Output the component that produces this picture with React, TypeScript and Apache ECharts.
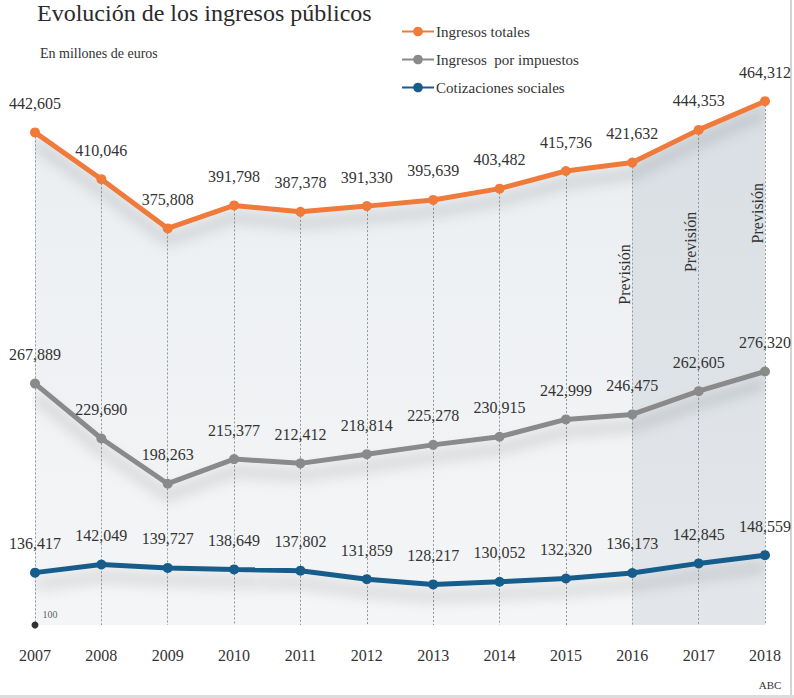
import React, { useEffect, useRef } from "react";
import * as echarts from "echarts";

const years = ["2007", "2008", "2009", "2010", "2011", "2012", "2013", "2014", "2015", "2016", "2017", "2018"];
const totales = [442605, 410046, 375808, 391798, 387378, 391330, 395639, 403482, 415736, 421632, 444353, 464312];
const impuestos = [267889, 229690, 198263, 215377, 212412, 218814, 225278, 230915, 242999, 246475, 262605, 276320];
const cotizaciones = [136417, 142049, 139727, 138649, 137802, 131859, 128217, 130052, 132320, 136173, 142845, 148559];
const forecastYears = ["2016", "2017", "2018"];
const baseValue = 100000;
const baseLabel = "100";

const SERIF = "'Liberation Serif', 'DejaVu Serif', serif";
const fmt = (v: number) => v.toLocaleString("en-US");

export default function App() {
  const ref = useRef<HTMLDivElement>(null);
  useEffect(() => {
    if (!ref.current) return;
    const chart = echarts.init(ref.current, undefined, { renderer: "svg" });
    const fStart = years.indexOf(forecastYears[0]);
    const forecastData = totales.map((v, i) => (i >= fStart ? v : null));

    const lineSeries = (name: string, data: number[], color: string) => ({
      name,
      type: "line",
      data,
      z: 5,
      symbol: "circle",
      symbolSize: 10,
      itemStyle: { color },
      lineStyle: {
        color,
        width: 5,
        shadowColor: "rgba(0,0,0,0.25)",
        shadowBlur: 14,
        shadowOffsetY: 12,
      },
      label: {
        show: true,
        position: "top",
        distance: 16,
        formatter: (p: any) => fmt(p.value),
        fontFamily: SERIF,
        fontSize: 16,
        color: "#333",
      },
    });

    chart.setOption({
      animation: false,
      backgroundColor: "#fff",
      title: [
        {
          text: "Evolución de los ingresos públicos",
          left: 32,
          top: -4,
          textStyle: { fontFamily: SERIF, fontSize: 24, fontWeight: "normal", color: "#2b2b2b" },
        },
        {
          text: "En millones de euros",
          left: 35,
          top: 41,
          textStyle: { fontFamily: SERIF, fontSize: 14, fontWeight: "normal", color: "#333" },
        },
      ],
      legend: {
        orient: "vertical",
        left: 396,
        top: 19,
        itemWidth: 32,
        itemHeight: 12,
        itemGap: 13,
        data: ["Ingresos totales", "Ingresos  por impuestos", "Cotizaciones sociales"],
        textStyle: { fontFamily: SERIF, fontSize: 15, color: "#333", padding: [0, 0, 0, -3] },
      },
      grid: { left: 35, right: 29, top: 93, bottom: 73 },
      xAxis: {
        type: "category",
        data: years,
        boundaryGap: false,
        axisLine: { show: false },
        axisTick: { show: false },
        splitLine: { show: false },
        axisLabel: { fontFamily: SERIF, fontSize: 16, color: "#333", margin: 22 },
      },
      yAxis: {
        type: "value",
        min: baseValue,
        max: 470000,
        show: false,
        splitLine: { show: false },
      },
      series: [
        {
          name: "area",
          type: "line",
          data: totales,
          z: 0,
          symbol: "none",
          silent: true,
          lineStyle: { width: 0 },
          areaStyle: {
            origin: "start",
            color: new echarts.graphic.LinearGradient(0, 0, 0, 1, [
              { offset: 0, color: "#e2e6ea" },
              { offset: 0.6, color: "#eaedf0" },
              { offset: 1, color: "#f0f1f3" },
            ]),
          },
        },
        {
          name: "forecast",
          type: "line",
          data: forecastData,
          z: 1,
          symbol: "none",
          silent: true,
          lineStyle: { width: 0 },
          areaStyle: {
            origin: "start",
            color: new echarts.graphic.LinearGradient(0, 0, 0, 1, [
              { offset: 0, color: "#d2d9df" },
              { offset: 1, color: "#dce0e4" },
            ]),
          },
        },
        {
          name: "guides",
          type: "line",
          data: totales,
          z: 2,
          symbol: "none",
          silent: true,
          lineStyle: { width: 0, opacity: 0 },
          markLine: {
            silent: true,
            symbol: "none",
            label: { show: false },
            lineStyle: { color: "#8f979e", width: 1, type: [2, 2] },
            data: totales.map((v, i) => [
              { coord: [i, v] },
              { coord: [i, baseValue] },
            ]),
          },
        },
        lineSeries("Ingresos totales", totales, "#ef7a3a"),
        lineSeries("Ingresos  por impuestos", impuestos, "#8a8a8a"),
        lineSeries("Cotizaciones sociales", cotizaciones, "#175d8c"),
        {
          name: "base",
          type: "scatter",
          data: [[0, baseValue]],
          z: 6,
          symbolSize: 7,
          itemStyle: { color: "#000" },
          label: {
            show: true,
            position: "right",
            offset: [-1, -11],
            formatter: baseLabel,
            fontFamily: SERIF,
            fontSize: 10,
            color: "#333",
          },
        },
      ],
    });

    const prevision = forecastYears.map((y) => {
      const i = years.indexOf(y);
      const p = chart.convertToPixel({ seriesIndex: 3 }, [i, totales[i]]) as number[];
      return {
        type: "text",
        x: p[0] - 8,
        y: p[1] + 112,
        rotation: Math.PI / 2,
        z: 10,
        style: {
          text: "Previsión",
          fontFamily: SERIF,
          fontSize: 16,
          fill: "#333",
          align: "center",
          verticalAlign: "middle",
        },
      };
    });

    chart.setOption({
      graphic: [
        ...prevision,
        {
          type: "text",
          x: 770,
          y: 685,
          style: { text: "ABC", fontFamily: SERIF, fontSize: 11, fill: "#333", align: "center", verticalAlign: "middle" },
        },
        { type: "rect", shape: { x: 790, y: 0, width: 2, height: 698 }, style: { fill: "#d4d4d4" } },
        { type: "rect", shape: { x: 0, y: 695, width: 794, height: 3 }, style: { fill: "#dcdcdc" } },
      ],
    });

    return () => chart.dispose();
  }, []);

  return (
    <div
      ref={ref}
      style={{ position: "fixed", left: 0, top: 0, width: 794, height: 698 }}
    />
  );
}
